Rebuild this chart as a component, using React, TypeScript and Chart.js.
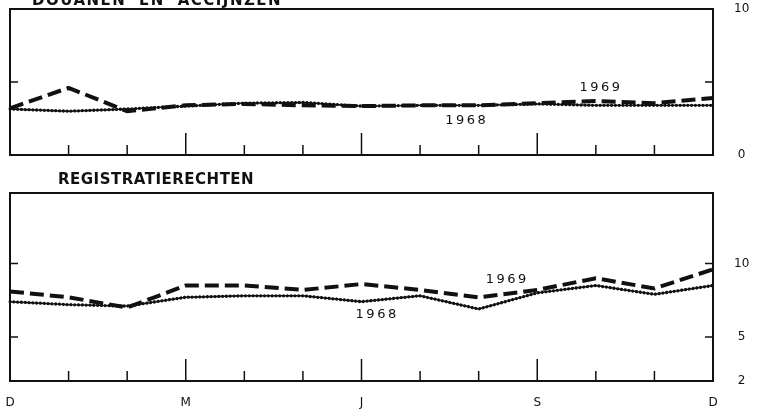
import React, { useEffect, useRef } from "react";
import { Chart, registerables } from "chart.js";

Chart.register(...registerables);

// ---- data ----
const months = ["D", "J", "F", "M", "A", "M", "J", "J", "A", "S", "O", "N", "D"];
const shownMonthIdx = [0, 3, 6, 9, 12];
const longTickIdx = [3, 6, 9];

const douanen1968 = [3.15, 3.0, 3.15, 3.35, 3.55, 3.6, 3.35, 3.4, 3.4, 3.5, 3.4, 3.4, 3.4];
const douanen1969 = [3.2, 4.6, 3.0, 3.4, 3.5, 3.4, 3.35, 3.4, 3.4, 3.55, 3.7, 3.55, 3.9];
const registratie1968 = [7.4, 7.2, 7.1, 7.7, 7.8, 7.8, 7.4, 7.8, 6.9, 8.0, 8.5, 7.9, 8.5];
const registratie1969 = [8.1, 7.7, 7.0, 8.5, 8.5, 8.2, 8.6, 8.2, 7.7, 8.2, 9.0, 8.3, 9.6];

const douanenTicks = [0, 10];
const douanenInnerTicks = [5];
const registratieTicks = [2, 5, 10];
const registratieInnerTicks = [5, 10];

const INK = "#111111";
const FONT = "'DejaVu Sans', sans-serif";

type PanelCfg = {
  title: string;
  titleX: number;
  titleY: number;
  titleSpacing: string;
  titleWordSpacing: string;
  s68: number[];
  s69: number[];
  min: number;
  max: number;
  ticks: number[];
  innerTicks: number[];
  showX: boolean;
  padTop: number;
  padBottom: number;
  label69: [number, number];
  label68: [number, number];
};

function panelPlugin(cfg: PanelCfg) {
  return {
    id: "panel",
    afterDatasetsDraw(chart: any) {
      const { ctx, chartArea } = chart;
      const { left, right, top, bottom } = chartArea;
      const xs = chart.scales.x;
      const ys = chart.scales.y;
      ctx.save();
      ctx.strokeStyle = INK;
      ctx.fillStyle = INK;
      // frame
      ctx.lineWidth = 2;
      ctx.strokeRect(left, top, right - left, bottom - top);
      // inward month ticks
      ctx.lineWidth = 1.5;
      for (let i = 1; i < months.length - 1; i++) {
        const x = xs.getPixelForValue(i);
        const len = longTickIdx.includes(i) ? 22 : 10;
        ctx.beginPath();
        ctx.moveTo(x, bottom);
        ctx.lineTo(x, bottom - len);
        ctx.stroke();
      }
      // inward value ticks
      cfg.innerTicks.forEach((v) => {
        const y = ys.getPixelForValue(v);
        ctx.beginPath();
        ctx.moveTo(left, y);
        ctx.lineTo(left + 8, y);
        ctx.moveTo(right, y);
        ctx.lineTo(right - 8, y);
        ctx.stroke();
      });
      // series labels
      ctx.font = `13px ${FONT}`;
      (ctx as any).letterSpacing = "2.5px";
      ctx.textAlign = "center";
      ctx.textBaseline = "middle";
      ctx.fillText("1969", xs.getPixelForValue(cfg.label69[0]) + 1, ys.getPixelForValue(cfg.label69[1]));
      ctx.fillText("1968", xs.getPixelForValue(cfg.label68[0]) + 1, ys.getPixelForValue(cfg.label68[1]));
      // title
      ctx.font = `bold 15px ${FONT}`;
      (ctx as any).letterSpacing = cfg.titleSpacing;
      (ctx as any).wordSpacing = cfg.titleWordSpacing;
      ctx.textAlign = "left";
      ctx.textBaseline = "alphabetic";
      ctx.fillText(cfg.title, cfg.titleX, cfg.titleY);
      ctx.restore();
    },
  };
}

function build(canvas: HTMLCanvasElement, cfg: PanelCfg) {
  return new Chart(canvas, {
    type: "line",
    data: {
      labels: months,
      datasets: [
        {
          data: cfg.s69,
          borderColor: INK,
          borderWidth: 4,
          borderDash: [14, 6],
          pointRadius: 0,
          tension: 0,
        },
        {
          data: cfg.s68,
          borderColor: INK,
          borderWidth: 1.4,
          pointRadius: 0,
          tension: 0,
        },
        {
          data: cfg.s68,
          borderColor: INK,
          borderWidth: 3.3,
          borderDash: [0.01, 3.8],
          borderCapStyle: "round",
          pointRadius: 0,
          tension: 0,
        },
      ],
    },
    options: {
      responsive: false,
      animation: false,
      devicePixelRatio: 1,
      events: [],
      layout: { padding: { top: cfg.padTop, left: 10, right: 0, bottom: cfg.padBottom } },
      plugins: { legend: { display: false }, tooltip: { enabled: false } },
      scales: {
        x: {
          display: cfg.showX,
          offset: false,
          grid: { display: false },
          border: { display: false },
          ticks: {
            autoSkip: false,
            maxRotation: 0,
            padding: 7,
            color: INK,
            font: { family: FONT, size: 12 },
            callback: (_v: any, i: number) => (shownMonthIdx.includes(i) ? months[i] : ""),
          },
          afterFit: (s: any) => {
            s.height = cfg.showX ? 30 : 0;
            s.paddingLeft = 0;
            s.paddingRight = 0;
          },
        },
        y: {
          position: "right",
          min: cfg.min,
          max: cfg.max,
          grid: { display: false },
          border: { display: false },
          ticks: {
            padding: 13,
            crossAlign: "center",
            color: INK,
            font: { family: FONT, size: 12 },
          },
          afterBuildTicks: (s: any) => {
            s.ticks = cfg.ticks.map((v) => ({ value: v }));
          },
          afterFit: (s: any) => {
            s.width = 48;
            s.paddingTop = 0;
            s.paddingBottom = 0;
          },
        },
      },
    } as any,
    plugins: [panelPlugin(cfg)],
  });
}

export default function App() {
  const topRef = useRef<HTMLCanvasElement>(null);
  const botRef = useRef<HTMLCanvasElement>(null);

  useEffect(() => {
    const c1 = build(topRef.current!, {
      title: "DOUANEN EN ACCIJNZEN",
      titleX: 32,
      titleY: 5,
      titleSpacing: "1.5px",
      titleWordSpacing: "6px",
      s68: douanen1968,
      s69: douanen1969,
      min: 0,
      max: 10,
      ticks: douanenTicks,
      innerTicks: douanenInnerTicks,
      showX: false,
      padTop: 9,
      padBottom: 15,
      label69: [10.07, 4.6],
      label68: [7.78, 2.33],
    });
    const c2 = build(botRef.current!, {
      title: "REGISTRATIERECHTEN",
      titleX: 58,
      titleY: 14,
      titleSpacing: "0.5px",
      titleWordSpacing: "0px",
      s68: registratie1968,
      s69: registratie1969,
      min: 2,
      max: 14.8,
      ticks: registratieTicks,
      innerTicks: registratieInnerTicks,
      showX: true,
      padTop: 23,
      padBottom: 0,
      label69: [8.47, 8.87],
      label68: [6.25, 6.49],
    });
    return () => {
      c1.destroy();
      c2.destroy();
    };
  }, []);

  return (
    <div style={{ position: "absolute", left: 0, top: 0, width: 761, height: 411, background: "#fff" }}>
      <canvas ref={topRef} width={761} height={170} style={{ position: "absolute", left: 0, top: 0 }} />
      <canvas ref={botRef} width={761} height={241} style={{ position: "absolute", left: 0, top: 170 }} />
    </div>
  );
}
